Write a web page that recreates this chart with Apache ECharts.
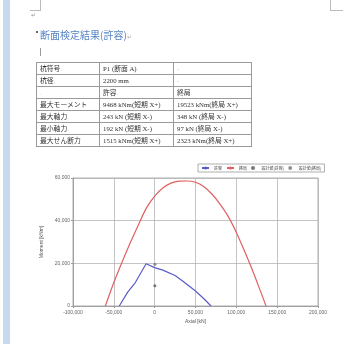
<!DOCTYPE html>
<html><head><meta charset="utf-8">
<script src="https://cdn.jsdelivr.net/npm/echarts@6/dist/echarts.min.js"></script>
<style>
html,body{margin:0;padding:0;width:350px;height:344px;background:#fff;overflow:hidden;}
body{position:relative;font-family:"Liberation Serif","Noto Sans CJK JP",serif;}
#chart{position:absolute;left:0;top:0;width:350px;height:344px;}
#bar{position:absolute;left:3px;top:0;width:7px;height:344px;background:#c6d9f1;}
.mk{position:absolute;background:#bbb;}
#title{position:absolute;left:40px;top:28px;font-family:"Noto Sans CJK JP",sans-serif;font-size:10px;color:#5583c2;white-space:nowrap;line-height:14px;}
#dot{position:absolute;left:36px;top:31px;width:2px;height:2px;background:#333;border-radius:1px;}
#tbl{position:absolute;left:36px;top:62px;border-collapse:collapse;font-size:6.8px;color:#333;table-layout:fixed;}
#tbl td{border:0.8px solid #9a9a9a;height:11px;padding:0 0 0 3px;white-space:nowrap;line-height:11px;overflow:hidden;}
.j{font-family:"Noto Sans CJK JP",sans-serif;}
.pm{color:#ccc;}
</style></head>
<body>
<div id="chart"></div>
<div id="bar"></div>
<div class="mk" style="left:40px;top:0;width:1px;height:10px"></div>
<div class="mk" style="left:30px;top:10px;width:11px;height:1px"></div>
<div class="mk" style="left:330px;top:0;width:1px;height:10px"></div>
<div class="mk" style="left:330px;top:10px;width:13px;height:1px"></div>
<div style="position:absolute;left:31px;top:11px;font-size:6px;color:#999">↵</div>
<div id="dot"></div>
<div id="title">断面検定結果(許容)<span style="color:#aaa;font-size:6px">↵</span></div>
<div class="mk" style="left:40px;top:48px;width:1px;height:8px;background:#999"></div>
<table id="tbl">
<colgroup><col style="width:63px"><col style="width:74px"><col style="width:78px"></colgroup>
<tr><td class="j">杭符号<span class="pm">.</span></td><td>P1 (<span class="j">断面</span> A)<span class="pm">.</span></td><td class="pm">-</td></tr>
<tr><td class="j">杭径<span class="pm">.</span></td><td>2200 mm<span class="pm">.</span></td><td class="pm">-</td></tr>
<tr><td class="pm">.</td><td class="j">許容<span class="pm">.</span></td><td class="j">終局<span class="pm">.</span></td></tr>
<tr><td class="j">最大モーメント</td><td>9468 kNm(<span class="j">短期</span> X+)</td><td>19523 kNm(<span class="j">終局</span> X+)</td></tr>
<tr><td class="j">最大軸力<span class="pm">.</span></td><td>243 kN (<span class="j">短期</span> X-)</td><td>348 kN (<span class="j">終局</span> X-)</td></tr>
<tr><td class="j">最小軸力<span class="pm">.</span></td><td>192 kN (<span class="j">短期</span> X-)</td><td>97 kN (<span class="j">終局</span> X-)</td></tr>
<tr><td class="j">最大せん断力</td><td>1515 kNm(<span class="j">短期</span> X+)</td><td>2323 kNm(<span class="j">終局</span> X+)</td></tr>
</table>
<script>
// Data
var seriesNames = ['許容', '終局', '設計値(許容)', '設計値(終局)'];
var allowCurve = [[-43300,0],[-33000,6500],[-23700,11000],[-10500,19800],[0,18000],[10000,16800],[25000,14300],[35000,11500],[50000,7000],[60000,3500],[69000,0]];
var ultimateCurve = [[-60400,0],[-50000,11000],[-40000,20500],[-30000,29500],[-20000,38000],[-10000,46000],[0,51500],[10000,55300],[20000,57600],[30000,58500],[40000,58600],[50000,58000],[60000,56000],[70000,52500],[80000,47800],[90000,42000],[100000,34500],[110000,25800],[120000,16500],[130000,6500],[136400,0]];
var designAllow = [[243,9468]];
var designUltimate = [[348,19523]];
var xTicks = {min:-100000, max:200000, interval:50000};
var yTicks = {min:0, max:60000, interval:20000};

var chart = echarts.init(document.getElementById('chart'), null, {renderer:'canvas'});
var fam = '"Liberation Sans","Noto Sans CJK JP",sans-serif';
chart.setOption({
  backgroundColor:'transparent',
  animation:false,
  textStyle:{fontFamily:fam},
  grid:{left:73, right:32, top:178, bottom:38, show:true, borderColor:'#999', borderWidth:0.8},
  legend:{
    left:198, top:164, orient:'horizontal',
    borderColor:'#999', borderWidth:0.8, padding:[2,3],
    itemGap:4, itemWidth:7, itemHeight:4,
    textStyle:{fontSize:4, color:'#444', fontFamily:'"Noto Sans CJK JP",sans-serif'},
    data:seriesNames
  },
  xAxis:{
    type:'value', min:xTicks.min, max:xTicks.max, interval:xTicks.interval,
    name:'Axial [kN]', nameLocation:'middle', nameGap:13,
    nameTextStyle:{fontSize:5, color:'#555'},
    axisLine:{show:true, onZero:false, lineStyle:{color:'#999', width:0.8}},
    axisTick:{show:true, length:2, lineStyle:{color:'#999'}},
    axisLabel:{fontSize:5, color:'#666', margin:4},
    splitLine:{show:true, lineStyle:{color:'#b5b5b5', width:0.8}}
  },
  yAxis:{
    type:'value', min:yTicks.min, max:yTicks.max, interval:yTicks.interval,
    name:'Moment [kNm]', nameLocation:'middle', nameGap:23,
    nameTextStyle:{fontSize:5, color:'#555'},
    axisLine:{show:true, onZero:false, lineStyle:{color:'#999', width:0.8}},
    axisTick:{show:true, length:2, lineStyle:{color:'#999'}},
    axisLabel:{fontSize:5, color:'#666', margin:3},
    splitLine:{show:true, lineStyle:{color:'#b5b5b5', width:0.8}}
  },
  series:[
    {name:seriesNames[0], type:'line', data:allowCurve, symbol:'none', lineStyle:{color:'#5b5bc8', width:1.2}, itemStyle:{color:'#5b5bc8'}},
    {name:seriesNames[1], type:'line', data:ultimateCurve, smooth:0.3, symbol:'none', lineStyle:{color:'#e06060', width:1.2}, itemStyle:{color:'#e06060'}},
    {name:seriesNames[2], type:'scatter', data:designAllow, symbolSize:3, itemStyle:{color:'#555'}},
    {name:seriesNames[3], type:'scatter', data:designUltimate, symbolSize:3, itemStyle:{color:'#777'}}
  ]
});
</script>
</body></html>
